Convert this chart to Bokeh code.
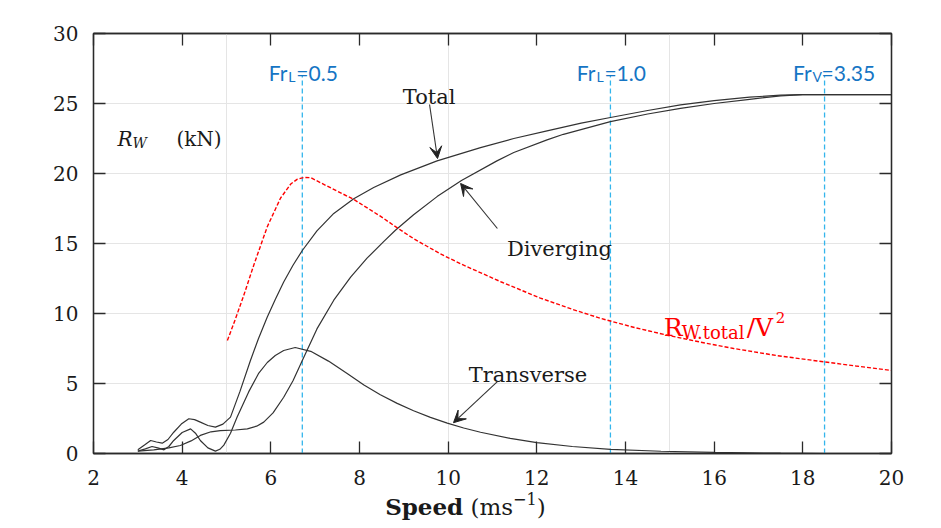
from bokeh.plotting import figure
from bokeh.layouts import column
from bokeh.models import ColumnDataSource, LinearAxis, Label, Arrow, VeeHead, FixedTicker, Range1d, Div
from bokeh.core.properties import value
from bokeh.embed import file_html
from bokeh.resources import INLINE

# ---------------- data ----------------
total_speed = [3.0, 3.15, 3.29, 3.42, 3.55, 3.68, 3.81, 3.98, 4.15, 4.28, 4.41, 4.58, 4.75, 4.92,
               5.09, 5.3, 5.54, 5.72, 5.92, 6.1, 6.29, 6.5, 6.71, 7.04, 7.42, 7.87, 8.32, 8.93,
               9.75, 10.73, 11.48, 12.23, 13.0, 13.66, 14.5, 15.24, 16.0, 16.8, 17.5, 18.0, 20.0]
total_rw = [0.26, 0.6, 0.93, 0.82, 0.74, 1.0, 1.52, 2.1, 2.48, 2.42, 2.24, 2.0, 1.88, 2.1,
            2.6, 4.4, 6.64, 8.2, 9.75, 11.0, 12.25, 13.45, 14.5, 15.9, 17.15, 18.2, 19.0, 19.9,
            20.9, 21.85, 22.5, 23.05, 23.6, 24.0, 24.5, 24.9, 25.2, 25.45, 25.6, 25.64, 25.64]

div_speed = [3.0, 3.36, 3.7, 3.96, 4.2, 4.41, 4.65, 4.86, 5.2, 5.47, 5.68, 5.84, 6.05, 6.29,
             6.5, 6.71, 7.04, 7.42, 7.8, 8.17, 8.55, 8.81, 9.22, 9.75, 10.3, 11.1, 11.48,
             12.23, 12.6, 13.66, 14.5, 15.24, 16.0, 16.8, 17.5, 18.0, 20.0]
div_rw = [0.17, 0.26, 0.4, 0.57, 0.9, 1.29, 1.55, 1.64, 1.68, 1.76, 1.95, 2.24, 2.9, 4.02,
          5.2, 6.64, 8.9, 10.95, 12.6, 13.95, 15.15, 15.95, 17.05, 18.35, 19.5, 20.9, 21.5,
          22.4, 22.8, 23.7, 24.25, 24.65, 25.0, 25.3, 25.55, 25.64, 25.64]

trans_speed = [3.0, 3.17, 3.32, 3.45, 3.59, 3.7, 3.81, 4.0, 4.19, 4.3, 4.41, 4.58, 4.75, 4.85,
               4.94, 5.09, 5.24, 5.5, 5.72, 5.92, 6.1, 6.29, 6.55, 6.9, 7.3, 7.73, 8.1, 8.47,
               8.85, 9.22, 9.6, 9.98, 10.35, 10.73, 11.4, 12.0, 12.8, 13.66, 14.8, 16.0, 17.5,
               18.5, 20.0]
trans_rw = [0.17, 0.33, 0.5, 0.4, 0.26, 0.5, 0.93, 1.5, 1.76, 1.45, 0.93, 0.4, 0.17, 0.3,
            0.6, 1.45, 2.6, 4.4, 5.7, 6.5, 7.0, 7.36, 7.57, 7.3, 6.6, 5.7, 4.9, 4.2,
            3.58, 3.05, 2.58, 2.17, 1.82, 1.52, 1.08, 0.78, 0.5, 0.3, 0.16, 0.08, 0.02,
            0.0, 0.0]

ratio_speed = [5.02, 5.2, 5.39, 5.62, 5.92, 6.22, 6.45, 6.6, 6.75, 6.9, 7.27, 7.87, 8.47, 8.93,
               9.22, 9.8, 10.35, 11.2, 12.08, 12.8, 13.44, 14.2, 14.94, 15.7, 16.44, 17.4,
               18.47, 19.2, 20.0]
ratio_val = [8.07, 9.6, 11.3, 13.5, 16.2, 18.25, 19.25, 19.6, 19.72, 19.7, 19.1, 18.15, 16.95,
             15.95, 15.35, 14.3, 13.45, 12.25, 11.1, 10.3, 9.65, 9.0, 8.45, 7.95, 7.5, 7.0,
             6.55, 6.25, 5.93]

fr_speed = [6.71, 13.66, 18.49]
fr_sub = ["L", "L", "V"]
fr_val = ["=0.5", "=1.0", "=3.35"]

x_ticks = [2, 4, 6, 8, 10, 12, 14, 16, 18, 20]
y_ticks = [0, 5, 10, 15, 20, 25, 30]

curve_names = ["Total", "Diverging", "Transverse"]

# ---------------- figure ----------------
SERIF = "DejaVu Serif"
INK = "#2a2a2a"

p = figure(width=925, height=494, x_range=Range1d(2, 20), y_range=Range1d(0, 30),
           output_backend="svg", toolbar_location=None, title=None,
           x_axis_location=None, y_axis_location=None,
           min_border_left=93, min_border_right=34, min_border_top=33, min_border_bottom=41)
p.background_fill_color = "white"
p.border_fill_color = "white"
p.outline_line_color = INK
p.outline_line_width = 1.3


def make_axis(ticks, show, standoff=15):
    ax = LinearAxis(ticker=FixedTicker(ticks=ticks))
    ax.major_tick_in = 12
    ax.major_tick_out = 0
    ax.minor_tick_in = 0
    ax.minor_tick_out = 0
    ax.axis_line_color = INK
    ax.axis_line_width = 1.3
    ax.major_tick_line_color = INK
    ax.major_tick_line_width = 1.3
    ax.major_label_text_font = SERIF
    ax.major_label_text_font_size = "20px"
    ax.major_label_text_color = "#1a1a1a"
    ax.major_label_standoff = standoff
    if not show:
        ax.major_label_overrides = {t: "" for t in ticks}
        ax.major_label_standoff = 0
        ax.major_label_text_font_size = "1px"
    return ax


p.add_layout(make_axis(x_ticks, True, 16), "below")
p.add_layout(make_axis(x_ticks, False), "above")
p.add_layout(make_axis(y_ticks, True, 15), "left")
p.add_layout(make_axis(y_ticks, False), "right")

# Froude-number markers
fr_src = ColumnDataSource(dict(x=fr_speed, y0=[0] * 3, y1=[27.0] * 3))
p.segment(x0="x", y0="y0", x1="x", y1="y1", source=fr_src,
          line_color="#33B5EC", line_width=1.3, line_dash="5 3")

# curves
p.line(total_speed, total_rw, line_color="#333333", line_width=1.2)
p.line(div_speed, div_rw, line_color="#333333", line_width=1.2)
p.line(trans_speed, trans_rw, line_color="#333333", line_width=1.2)
p.line(ratio_speed, ratio_val, line_color="#FF0000", line_width=1.4, line_dash="4 2")

# arrows
arr_src = ColumnDataSource(dict(xs=[9.58, 11.11, 11.11], ys=[24.93, 16.07, 5.14],
                                xe=[9.76, 10.28, 10.12], ye=[21.07, 19.29, 2.2]))
p.add_layout(Arrow(end=VeeHead(size=12, fill_color="#222222", line_color="#222222"),
                   source=arr_src, x_start="xs", y_start="ys", x_end="xe", y_end="ye",
                   line_color="#333333", line_width=1.1))

# curve names
name_src = ColumnDataSource(dict(x=[9.57, 12.51, 11.8], y=[25.43, 14.64, 5.64], t=curve_names))
p.text(x="x", y="y", text="t", source=name_src, text_font=value(SERIF),
       text_font_size="21px", text_align="center", text_baseline="alphabetic",
       text_color="#1a1a1a")


def lab(x, y, text, size, xo=0, yo=0, color="#1a1a1a", font=SERIF, style="normal", align="left"):
    p.add_layout(Label(x=x, y=y, text=text, x_offset=xo, y_offset=yo,
                       text_font=font, text_font_size=size, text_font_style=style,
                       text_color=color, text_baseline="alphabetic", text_align=align))


# Fr labels
BLUE = "#1575C4"
for xv, sub, val in zip(fr_speed, fr_sub, fr_val):
    fr_end = -15 if sub == "L" else -13
    eq_start = -6 if sub == "L" else -3
    lab(xv, 27.21, "Fr", "21px", xo=fr_end, color=BLUE, font="Lato", align="right")
    lab(xv, 27.21, sub, "14px", xo=fr_end + 1, yo=-4, color=BLUE, font="Lato")
    lab(xv, 27.21, val, "21px", xo=eq_start, color=BLUE, font="Lato")

# y label  R_W (kN)
lab(2.54, 22.43, "R", "20px", style="italic")
lab(2.54, 22.43, "W", "14px", xo=15, yo=-4, style="italic")
lab(2.54, 22.43, "(kN)", "20px", xo=59)

# red ratio label
RED = "#FF0000"
lab(14.86, 9.0, "R", "25px", color=RED)
lab(14.86, 9.0, "W.total", "18px", xo=18, yo=-5, color=RED)
lab(14.86, 9.0, "/V", "25px", xo=83, color=RED)
lab(14.86, 9.0, "2", "15px", xo=112, yo=10, color=RED)

# x axis title (mixed bold / normal, so written as HTML below the plot)
xtitle = Div(text="<b>Speed</b>&nbsp;(ms<span style='font-size:0.7em;position:relative;"
                  "top:-0.6em;line-height:0'>\u22121</span>)",
             width=925, height=30, margin=0,
             styles={"text-align": "center", "font-family": "DejaVu Serif", "font-size": "23px",
                     "line-height": "26px", "color": "#1a1a1a", "padding-left": "6px"})

layout = column(p, xtitle, spacing=0)
open("out.html", "w").write(file_html(layout, INLINE))
